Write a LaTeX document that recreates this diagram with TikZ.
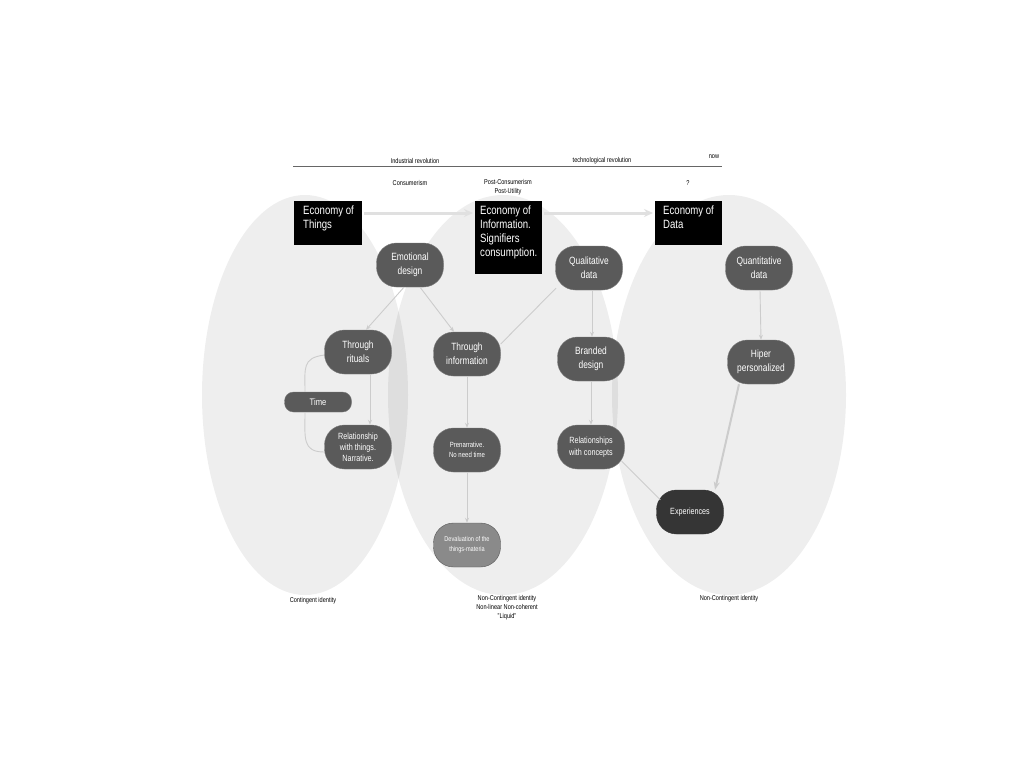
\documentclass[tikz,border=0pt]{standalone}
\usepackage{fontspec}
\setmainfont{Liberation Sans}[FakeStretch=0.8]
\usetikzlibrary{arrows.meta}
\definecolor{ell}{HTML}{000000}
\definecolor{nodegray}{HTML}{5A5A5A}
\definecolor{darknode}{HTML}{353535}
\definecolor{lightnode}{HTML}{8A8A8A}
\definecolor{conn}{HTML}{CCCCCC}
\tikzset{
  blob/.style={fill=ell,fill opacity=0.065,draw=none},
  blackbox/.style={text=white,anchor=north west,inner sep=0pt,font=\fontsize{12}{14}\selectfont,align=left},
  pill/.style={rectangle,rounded corners=20pt,fill=nodegray,draw=nodegray!80!white,text=white,minimum width=67pt,minimum height=44pt,inner sep=1pt,align=center,font=\fontsize{10.5}{14}\selectfont},
  small/.style={font=\fontsize{7}{9}\selectfont,align=center},
  conline/.style={draw=conn,line width=0.9pt},
  conarrow/.style={conline,-{Stealth[length=5pt,width=4pt]}},
  bigarrow/.style={draw=black!12,line width=3pt,-{Stealth[length=9pt,width=8pt]}},
}
\begin{document}
\begin{tikzpicture}[x=1pt,y=-1pt]
\useasboundingbox (0,0) rectangle (1024,768);
\fill[white] (0,0) rectangle (1024,768);
% ellipses
\fill[blob] (305,395) ellipse [x radius=103,y radius=200];
\fill[blob] (503,395) ellipse [x radius=115,y radius=200];
\fill[blob] (729,395) ellipse [x radius=117,y radius=200];
% timeline
\coordinate (tl1) at (293,166);
\coordinate (tl2) at (722,166);
\draw[black!60,line width=0.6pt] (tl1) -- (tl2);
\node[small] (ir) at (415,161) {Industrial revolution};
\node[small] (tr) at (602,161) {technological revolution};
\node[small] (now) at (714,157) {now};
\node[small] (cons) at (410,183) {Consumerism};
\node[small] (pc) at (508,187) {Post-Consumerism\\Post-Utility};
\node[small] (q) at (688,183) {?};
% black boxes
\fill[black] (294,201) rectangle (362,245);
\node[blackbox] (eot) at (303,206) {Economy of\\Things};
\coordinate (eotR) at (364,213);
\fill[black] (475,201) rectangle (542,274);
\node[blackbox] (eoi) at (480,206) {Economy of\\Information.\\Signifiers\\consumption.};
\coordinate (eoiL) at (473,213);
\coordinate (eoiR) at (544,213);
\fill[black] (655,201) rectangle (722,245);
\node[blackbox] (eod) at (663,206) {Economy of\\Data};
\coordinate (eodL) at (653,213);
\draw[bigarrow] (eotR) -- (eoiL);
\draw[bigarrow] (eoiR) -- (eodL);
% pill nodes
\node[pill] (emo) at (410,265) {Emotional\\design};
\node[pill] (qual) at (589,268) {Qualitative\\data};
\node[pill] (quan) at (759,268) {Quantitative\\data};
\node[pill] (rit) at (358,352) {Through\\rituals};
\node[pill] (inf) at (467,354) {Through\\information};
\node[pill] (brand) at (591,359) {Branded\\design};
\node[pill] (hiper) at (761,362) {Hiper\\personalized};
\node[pill,minimum height=20pt,rounded corners=9pt,font=\fontsize{9.5}{11}\selectfont] (time) at (318,402) {Time};
\node[pill,font=\fontsize{9}{11}\selectfont] (relt) at (358,447) {Relationship\\with things.\\Narrative.};
\node[pill,font=\fontsize{7.5}{10}\selectfont] (pren) at (467,450) {Prenarrative.\\No need time};
\node[pill,font=\fontsize{9}{12}\selectfont] (relc) at (591,447) {Relationships\\with concepts};
\node[pill,fill=darknode,draw=darknode,font=\fontsize{9}{12}\selectfont] (exp) at (690,512) {Experiences};
\node[pill,fill=lightnode,draw=black!65,font=\fontsize{7}{10}\selectfont] (dev) at (467,545) {Devaluation of the\\things-materia};
% connectors
\draw[conarrow] ([xshift=-6pt]emo.south) -- ([xshift=8pt]rit.north);
\draw[conarrow] ([xshift=10pt]emo.south) -- ([xshift=-13pt]inf.north);
\draw[conline] ([xshift=-33pt,yshift=2pt]qual.south) -- ([yshift=10pt]inf.east);
\draw[conarrow] ([xshift=3pt]qual.south) -- ([xshift=1pt]brand.north);
\draw[conarrow] ([xshift=1pt]quan.south) -- (hiper.north);
\draw[conarrow] ([xshift=12pt]rit.south) -- ([xshift=12pt]relt.north);
\draw[conarrow] (inf.south) -- (pren.north);
\draw[conarrow] (pren.south) -- (dev.north);
\draw[conarrow] (brand.south) -- (relc.north);
\draw[conline] ([xshift=-3pt,yshift=8pt]relc.south east) -- ([xshift=4pt,yshift=-10pt]exp.north west);
\draw[draw=conn,line width=2pt,-{Stealth[length=8pt,width=6pt]}] ([xshift=-22pt]hiper.south) -- ([xshift=25pt]exp.north);
% time bracket
\draw[conline] ([yshift=-3pt]rit.west) .. controls (302,358) and (305,368) .. ([xshift=-13pt]time.north);
\draw[conline] ([xshift=-13pt]time.south) .. controls (305,438) and (302,452) .. ([yshift=-5pt]relt.west);
% bottom labels
\node[small] (ci) at (313,601) {Contingent identity};
\node[small] (nci) at (507,608) {Non-Contingent identity\\Non-linear Non-coherent\\"Liquid"};
\node[small] (nci2) at (729,599) {Non-Contingent identity};
\end{tikzpicture}
\end{document}
